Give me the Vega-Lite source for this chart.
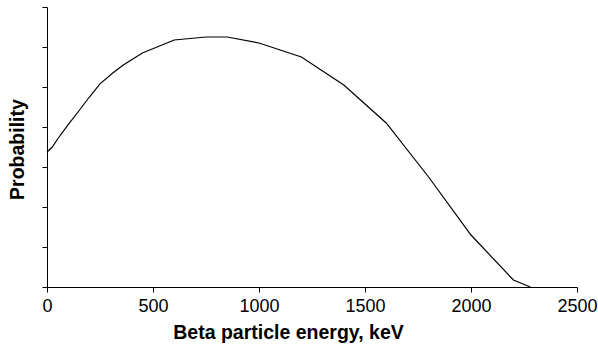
{
  "$schema": "https://vega.github.io/schema/vega-lite/v6.json",
  "autosize": "none",
  "width": 530,
  "height": 280,
  "padding": {"left": 47, "top": 7, "right": 21, "bottom": 65},
  "background": "white",
  "config": {
    "view": {"stroke": null},
    "font": "Liberation Sans",
    "axis": {
      "grid": false,
      "domainColor": "#000000",
      "domainWidth": 1,
      "tickColor": "#000000",
      "tickWidth": 1,
      "tickSize": 5,
      "labelFont": "Liberation Sans",
      "labelColor": "#000000",
      "labelFontSize": 18,
      "titleFont": "Liberation Sans",
      "titleFontWeight": "bold",
      "titleColor": "#000000",
      "titleFontSize": 19.5
    }
  },
  "data": {
    "values": [
      {"energy": 0, "probability": 0.3375},
      {"energy": 25, "probability": 0.35},
      {"energy": 50, "probability": 0.37},
      {"energy": 100, "probability": 0.406},
      {"energy": 150, "probability": 0.44},
      {"energy": 200, "probability": 0.475},
      {"energy": 250, "probability": 0.508},
      {"energy": 310, "probability": 0.535},
      {"energy": 360, "probability": 0.555},
      {"energy": 450, "probability": 0.585},
      {"energy": 600, "probability": 0.6175},
      {"energy": 750, "probability": 0.625},
      {"energy": 850, "probability": 0.625},
      {"energy": 1000, "probability": 0.61},
      {"energy": 1200, "probability": 0.575},
      {"energy": 1400, "probability": 0.505},
      {"energy": 1600, "probability": 0.41},
      {"energy": 1800, "probability": 0.275},
      {"energy": 2000, "probability": 0.13},
      {"energy": 2200, "probability": 0.0175},
      {"energy": 2280, "probability": 0}
    ]
  },
  "mark": {"type": "line", "color": "#000000", "strokeWidth": 1.2},
  "encoding": {
    "x": {
      "field": "energy",
      "type": "quantitative",
      "title": "Beta particle energy, keV",
      "scale": {"domain": [0, 2500], "nice": false, "zero": false},
      "axis": {"values": [0, 500, 1000, 1500, 2000, 2500], "format": "d", "labelPadding": 5, "titlePadding": 8, "titleX": 241, "titleAlign": "center", "labelFlush": false}
    },
    "y": {
      "field": "probability",
      "type": "quantitative",
      "title": "Probability",
      "scale": {"domain": [0, 0.7], "nice": false},
      "axis": {"values": [0, 0.1, 0.2, 0.3, 0.4, 0.5, 0.6, 0.7], "labels": false, "titleX": -30, "titleY": 142, "titleBaseline": "middle", "titleAngle": -90, "titleAlign": "center"}
    }
  }
}
